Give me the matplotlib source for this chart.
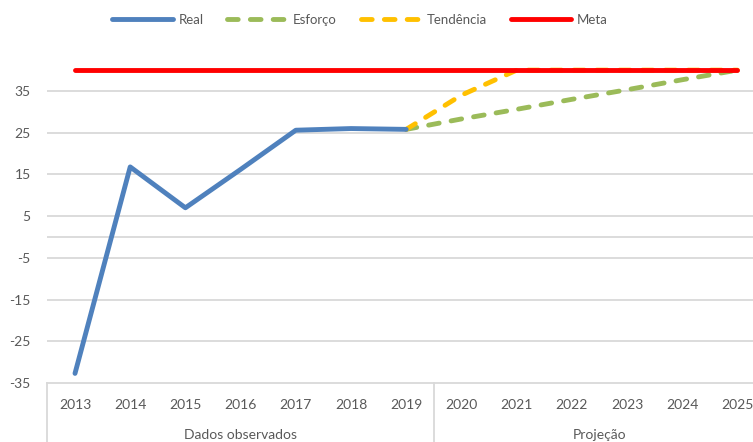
import numpy as np
import matplotlib
matplotlib.use("Agg")
import matplotlib.pyplot as plt
from matplotlib.lines import Line2D

years = ["2013", "2014", "2015", "2016", "2017", "2018", "2019",
         "2020", "2021", "2022", "2023", "2024", "2025"]
real = [-32.7, 16.8, 7.0, 16.2, 25.6, 26.0, 25.8] + [np.nan] * 6
esforco = [np.nan] * 6 + [25.8, 28.3, 30.6, 33.0, 35.3, 37.7, 40.0]
tendencia = [np.nan] * 6 + [25.8, 34.0, 40.0, 40.0, 40.0, 40.0, 40.0]
meta = [40.0] * 13
groups = ["Dados observados", "Projeção"]
group_sizes = [7, 6]
yticks = [35, 25, 15, 5, -5, -15, -25, -35]

plt.rcParams['font.family'] = ['Lato', 'DejaVu Sans']
txt = '#595959'
W, H = 753, 442
fig = plt.figure(figsize=(W / 100, H / 100), dpi=100)

left, right = 47.4, 765.0
y35, ym35 = 91.0, 383.0
ppu = (ym35 - y35) / 70.0
ytop_val = 44.0
ytop_px = y35 - (ytop_val - 35) * ppu
ax = fig.add_axes([left / W, 1 - ym35 / H, (right - left) / W, (ym35 - ytop_px) / H])

x = np.arange(len(years))
lw = 3.5
ax.plot(x, real, color='#4F81BD', lw=lw, solid_capstyle='round', solid_joinstyle='round', label='Real', zorder=4)
ax.plot(x, esforco, color='#9BBB59', lw=lw, dashes=(2.2, 2.5), dash_capstyle='round', label='Esforço', zorder=3)
ax.plot(x, tendencia, color='#FFC000', lw=lw, dashes=(2.2, 2.5), dash_capstyle='round', label='Tendência', zorder=3)
ax.plot(x, meta, color='#FF0000', lw=lw, solid_capstyle='round', label='Meta', zorder=5)

ax.set_xlim(-0.5, len(years) - 0.5)
ax.set_ylim(-35, ytop_val)
ax.set_yticks(yticks)
ax.set_yticklabels([str(v) for v in yticks])
ax.tick_params(axis='y', length=0, pad=12, labelsize=10, labelcolor=txt)
ax.set_xticks([])
for yv in yticks[:-1]:
    ax.axhline(yv, color='#D9D9D9', lw=1.3, zorder=1)
ax.axhline(0, color='#D9D9D9', lw=1.3, zorder=1)
for s in ['top', 'right', 'left']:
    ax.spines[s].set_visible(False)
ax.spines['bottom'].set_color('#D9D9D9')
ax.spines['bottom'].set_linewidth(1.3)

# category labels
cat_y = 1 - 405 / H
grp_y = 1 - 435 / H
for i, yr in enumerate(years):
    xf = (left + (i + 0.5) * (right - left) / len(years)) / W
    fig.text(xf, cat_y, yr, ha='center', va='center', fontsize=10, color=txt)

# group labels and separators
start = 0
bounds = [0]
for g, n in zip(groups, group_sizes):
    mid = start + n / 2
    xf = (left + mid * (right - left) / len(years)) / W
    fig.text(xf, grp_y, g, ha='center', va='center', fontsize=10, color=txt)
    start += n
    bounds.append(start)
for b in bounds:
    xf = (left + b * (right - left) / len(years)) / W
    fig.add_artist(Line2D([xf, xf], [0, 1 - ym35 / H], color='#D9D9D9', lw=1.3))

fig.legend(loc='center', bbox_to_anchor=(360 / W, 1 - 20 / H), ncol=4, frameon=False,
           fontsize=9.5, handlelength=4.6, columnspacing=1.8, handletextpad=0.4,
           labelcolor=txt)

fig.savefig('out.png', dpi=100)
